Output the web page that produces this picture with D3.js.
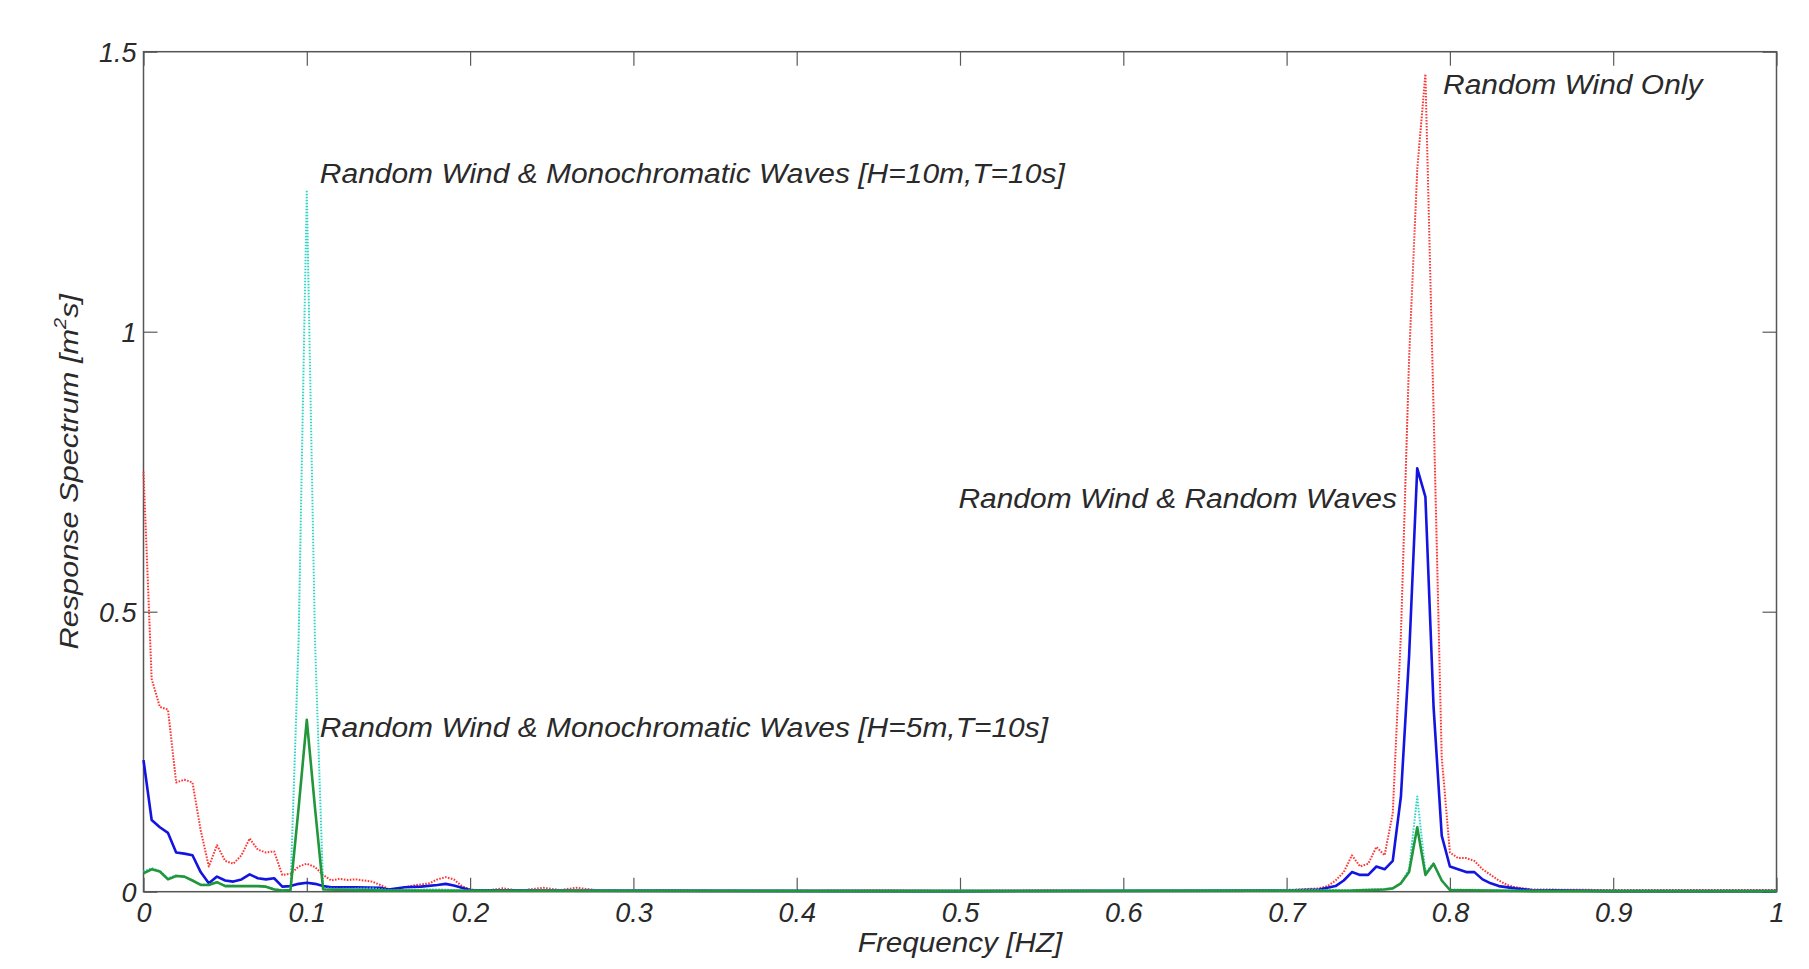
<!DOCTYPE html>
<html>
<head>
<meta charset="utf-8">
<script src="https://cdn.jsdelivr.net/npm/d3@7"></script>
<style>
  body{margin:0;background:#fff;}
  text{font-family:"Liberation Sans",Arial,sans-serif;font-style:italic;fill:#2a2a2a;}
</style>
</head>
<body>
<div id="canvas"></div>
<script>
// spectra, pairs of [frequency Hz, response m^2 s]
var windOnly = [[0,0.75],[0.005,0.38],[0.01,0.33],[0.015,0.325],[0.02,0.195],[0.025,0.2],[0.03,0.195],[0.035,0.11],
  [0.04,0.045],[0.045,0.083],[0.05,0.055],[0.055,0.05],[0.06,0.065],[0.065,0.095],[0.07,0.075],[0.075,0.07],[0.08,0.072],
  [0.085,0.03],[0.09,0.032],[0.095,0.045],[0.1,0.05],[0.105,0.044],[0.11,0.03],[0.115,0.02],[0.12,0.023],[0.125,0.021],
  [0.13,0.022],[0.135,0.02],[0.14,0.018],[0.145,0.012],[0.15,0.005],[0.155,0.003],[0.16,0.008],[0.165,0.011],[0.17,0.013],
  [0.175,0.015],[0.18,0.022],[0.185,0.026],[0.19,0.022],[0.195,0.01],[0.2,0.004],[0.21,0.002],[0.22,0.006],[0.23,0.002],
  [0.245,0.007],[0.255,0.003],[0.265,0.007],[0.28,0.002],[0.32,0.003],[0.36,0.002],[0.4,0.002],[0.45,0.003],[0.5,0.002],
  [0.55,0.003],[0.6,0.002],[0.65,0.002],[0.7,0.003],[0.72,0.006],[0.725,0.01],[0.73,0.02],[0.735,0.035],[0.74,0.065],
  [0.745,0.045],[0.75,0.05],[0.755,0.08],[0.76,0.065],[0.765,0.14],[0.77,0.46],[0.775,0.95],[0.78,1.29],[0.785,1.46],
  [0.79,0.86],[0.795,0.24],[0.8,0.07],[0.805,0.06],[0.81,0.06],[0.815,0.055],[0.82,0.04],[0.825,0.03],[0.83,0.02],
  [0.835,0.012],[0.84,0.008],[0.85,0.004],[0.9,0.003],[1,0.003]];

var randomWaves = [[0,0.235],[0.005,0.128],[0.01,0.115],[0.015,0.105],[0.02,0.07],[0.025,0.068],[0.03,0.065],[0.035,0.035],
  [0.04,0.015],[0.045,0.027],[0.05,0.02],[0.055,0.018],[0.06,0.022],[0.065,0.031],[0.07,0.024],[0.075,0.022],[0.08,0.024],
  [0.085,0.009],[0.09,0.01],[0.095,0.014],[0.1,0.016],[0.105,0.014],[0.11,0.01],[0.115,0.008],[0.13,0.008],[0.145,0.007],
  [0.15,0.004],[0.16,0.008],[0.17,0.009],[0.18,0.012],[0.185,0.014],[0.19,0.011],[0.2,0.003],[0.25,0.002],[0.5,0.001],
  [0.7,0.002],[0.72,0.004],[0.73,0.01],[0.735,0.02],[0.74,0.035],[0.745,0.03],[0.75,0.03],[0.755,0.045],[0.76,0.04],
  [0.765,0.055],[0.77,0.17],[0.775,0.42],[0.78,0.756],[0.785,0.705],[0.79,0.33],[0.795,0.1],[0.8,0.045],[0.805,0.04],
  [0.81,0.035],[0.815,0.035],[0.82,0.022],[0.825,0.015],[0.83,0.01],[0.84,0.006],[0.85,0.003],[0.9,0.001],[1,0.001]];

var monoWaves10 = [[0,0.036],[0.005,0.042],[0.01,0.037],[0.015,0.024],[0.02,0.029],[0.025,0.027],[0.03,0.02],[0.035,0.013],
  [0.04,0.013],[0.045,0.017],[0.05,0.011],[0.06,0.01],[0.07,0.01],[0.075,0.009],[0.08,0.005],[0.085,0.003],[0.09,0.004],
  [0.095,0.45],[0.1,1.253],[0.105,0.45],[0.11,0.006],[0.12,0.005],[0.14,0.006],[0.15,0.003],[0.18,0.004],[0.2,0.002],
  [0.5,0.002],[0.74,0.003],[0.76,0.005],[0.765,0.006],[0.77,0.015],[0.775,0.04],[0.78,0.17],[0.785,0.035],[0.79,0.05],
  [0.795,0.02],[0.8,0.004],[0.85,0.002],[1,0.001]];

var monoWaves5 = [[0,0.033],[0.005,0.04],[0.01,0.036],[0.015,0.022],[0.02,0.028],[0.025,0.027],[0.03,0.02],[0.035,0.012],
  [0.04,0.012],[0.045,0.017],[0.05,0.01],[0.06,0.01],[0.07,0.01],[0.075,0.009],[0.08,0.004],[0.085,0.002],[0.09,0.003],
  [0.095,0.15],[0.1,0.307],[0.105,0.15],[0.11,0.004],[0.15,0.002],[0.5,0.001],[0.74,0.002],[0.76,0.004],[0.765,0.006],
  [0.77,0.015],[0.775,0.035],[0.78,0.115],[0.785,0.03],[0.79,0.05],[0.795,0.02],[0.8,0.003],[0.85,0.001],[1,0.001]];

var xTicks = [0,0.1,0.2,0.3,0.4,0.5,0.6,0.7,0.8,0.9,1];
var xTickLabels = ["0","0.1","0.2","0.3","0.4","0.5","0.6","0.7","0.8","0.9","1"];
var yTicks = [0,0.5,1,1.5];
var yTickLabels = ["0","0.5","1","1.5"];

var labelWindOnly = "Random Wind Only";
var labelMono10 = "Random Wind & Monochromatic Waves [H=10m,T=10s]";
var labelRandom = "Random Wind & Random Waves";
var labelMono5 = "Random Wind & Monochromatic Waves [H=5m,T=10s]";

var svg = d3.select("#canvas")
            .append("svg")
            .attr("width", 1809)
            .attr("height", 969);

var xScale = d3.scaleLinear().domain([0, 1]).range([143.5, 1776.5]);
var yScale = d3.scaleLinear().domain([0, 1.5]).range([891.7, 51.7]);

//ticks point into the box like matlab
function styleAxis(g){
  g.select(".domain").remove();
  g.selectAll(".tick line").attr("stroke", "#5a5a5a").attr("stroke-width", 1.2);
  g.selectAll(".tick text").attr("font-size", 27).attr("fill", "#2a2a2a")
   .attr("font-family", "Liberation Sans, Arial, sans-serif");
}

svg.append("g")
   .attr("transform", "translate(0," + yScale(0) + ")")
   .call(d3.axisBottom(xScale).tickValues(xTicks)
         .tickFormat(function(d, i){ return xTickLabels[i]; })
         .tickSize(-14).tickPadding(11))
   .call(styleAxis);

svg.append("g")
   .attr("transform", "translate(0," + yScale(1.5) + ")")
   .call(d3.axisTop(xScale).tickValues(xTicks).tickFormat("").tickSize(-14))
   .call(styleAxis);

svg.append("g")
   .attr("transform", "translate(" + xScale(0) + ",0)")
   .call(d3.axisLeft(yScale).tickValues(yTicks)
         .tickFormat(function(d, i){ return yTickLabels[i]; })
         .tickSize(-14).tickPadding(7))
   .call(styleAxis)
   .selectAll(".tick text").attr("dy", "0.38em");

svg.append("g")
   .attr("transform", "translate(" + xScale(1) + ",0)")
   .call(d3.axisRight(yScale).tickValues(yTicks).tickFormat("").tickSize(-14))
   .call(styleAxis);

//box round the plot
svg.append("rect")
   .attr("x", xScale(0))
   .attr("y", yScale(1.5))
   .attr("width", xScale(1) - xScale(0))
   .attr("height", yScale(0) - yScale(1.5))
   .attr("fill", "none")
   .attr("stroke", "#555")
   .attr("stroke-width", 1.5);

var genLine = d3.line().curve(d3.curveLinear)
                .x(function(d){ return xScale(d[0]); })
                .y(function(d){ return yScale(d[1]); });

function drawSeries(data, colour, width, dash){
  svg.append("path")
     .attr("d", genLine(data))
     .attr("fill", "none")
     .attr("stroke", colour)
     .attr("stroke-width", width)
     .attr("stroke-linejoin", "round")
     .attr("stroke-dasharray", dash);
}

drawSeries(windOnly, "#ff3434", 2, "1.6,1.4");
drawSeries(randomWaves, "#1414e0", 2.6, null);
drawSeries(monoWaves10, "#33d4c6", 2, "1.6,1.4");
drawSeries(monoWaves5, "#22963a", 2.6, null);

//text drawn slightly wide like the original
function note(str, f, v, anchor){
  svg.append("g")
     .attr("transform", "translate(" + xScale(f) + "," + yScale(v) + ") scale(1.07,1)")
     .append("text")
     .attr("font-size", 28)
     .attr("text-anchor", anchor)
     .text(str);
}

note(labelWindOnly, 0.7958, 1.424, "start");
note(labelMono10, 0.108, 1.2655, "start");
note(labelRandom, 0.7676, 0.685, "end");
note(labelMono5, 0.108, 0.276, "start");

//axis titles
svg.append("g")
   .attr("transform", "translate(" + ((xScale(0) + xScale(1)) / 2) + ",952) scale(1.06,1)")
   .append("text")
   .attr("font-size", 28)
   .attr("text-anchor", "middle")
   .text("Frequency [HZ]");

var yTitle = svg.append("g")
   .attr("transform", "translate(78," + ((yScale(0) + yScale(1.5)) / 2) + ") rotate(-90) scale(1.18,1)")
   .append("text")
   .attr("font-size", 26)
   .attr("text-anchor", "middle");
yTitle.append("tspan").text("Response Spectrum [m");
yTitle.append("tspan").attr("font-size", 17).attr("dy", "-0.7em").text("2");
yTitle.append("tspan").attr("dy", "0.45em").text("s]");
</script>
</body>
</html>
